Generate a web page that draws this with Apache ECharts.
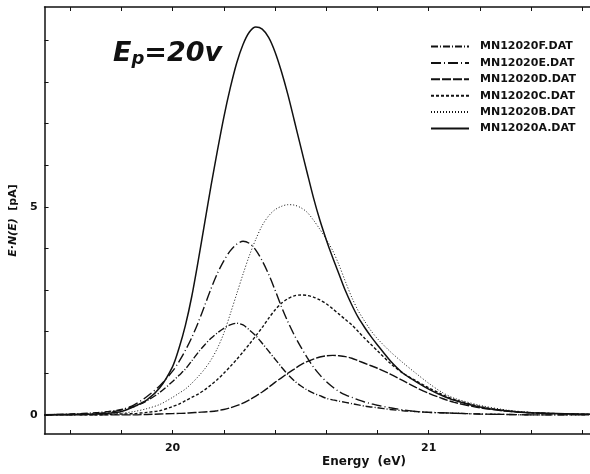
<!DOCTYPE html>
<html>
<head>
<meta charset="utf-8">
<script src="https://cdn.jsdelivr.net/npm/echarts@6/dist/echarts.min.js"></script>
<style>
  html, body { margin: 0; padding: 0; background: #fff; }
  #main { width: 590px; height: 474px; }
</style>
</head>
<body>
<div id="main"></div>
<script>
// energy axis (eV)
const energy = [19.5, 19.6, 19.7, 19.75, 19.8, 19.85, 19.9, 19.95,
  20.0, 20.025, 20.05, 20.075, 20.1, 20.125, 20.15, 20.175, 20.2, 20.225, 20.25, 20.275, 20.3, 20.325, 20.35, 20.375,
  20.4, 20.425, 20.45, 20.475, 20.5, 20.525, 20.55, 20.575, 20.6, 20.625, 20.65, 20.675, 20.7, 20.725, 20.75, 20.775, 20.8,
  20.85, 20.9, 20.95, 21.0, 21.05, 21.1, 21.2, 21.3, 21.4, 21.5, 21.65];

// E*N(E) values (pA)
const serA = [0, 0.01, 0.02, 0.04, 0.08, 0.2, 0.36, 0.65,
  1.16, 1.6, 2.15, 2.85, 3.7, 4.6, 5.5, 6.35, 7.15, 7.85, 8.45, 8.9, 9.2, 9.32, 9.27, 9.07,
  8.72, 8.25, 7.7, 7.08, 6.45, 5.83, 5.22, 4.68, 4.21, 3.78, 3.38, 2.98, 2.64, 2.34, 2.1, 1.88, 1.68,
  1.3, 1.0, 0.8, 0.62, 0.47, 0.35, 0.19, 0.1, 0.05, 0.03, 0.01];
const serB = [0, 0, 0.01, 0.02, 0.04, 0.08, 0.15, 0.25,
  0.42, 0.52, 0.62, 0.76, 0.92, 1.1, 1.32, 1.6, 1.96, 2.42, 2.9, 3.38, 3.83, 4.22, 4.55, 4.78,
  4.93, 5.01, 5.05, 5.04, 4.98, 4.87, 4.68, 4.46, 4.22, 3.95, 3.6, 3.2, 2.82, 2.5, 2.25, 2.02, 1.83,
  1.52, 1.25, 1.0, 0.76, 0.55, 0.4, 0.23, 0.12, 0.06, 0.03, 0.01];
const serC = [0, 0, 0, 0.01, 0.02, 0.03, 0.06, 0.1,
  0.2, 0.26, 0.34, 0.42, 0.5, 0.6, 0.72, 0.85, 1.0, 1.16, 1.33, 1.51, 1.7, 1.9, 2.1, 2.32,
  2.52, 2.68, 2.79, 2.86, 2.88, 2.87, 2.83, 2.76, 2.67, 2.55, 2.42, 2.29, 2.16, 2.0, 1.84, 1.69, 1.54,
  1.24, 1.0, 0.82, 0.65, 0.5, 0.37, 0.2, 0.1, 0.05, 0.03, 0.01];
const serD = [0, 0, 0, 0, 0, 0, 0.01, 0.02,
  0.03, 0.035, 0.04, 0.05, 0.06, 0.07, 0.08, 0.1, 0.13, 0.17, 0.22, 0.28, 0.36, 0.45, 0.55, 0.66,
  0.78, 0.89, 1.0, 1.1, 1.2, 1.28, 1.34, 1.39, 1.42, 1.43, 1.42, 1.4, 1.36, 1.3, 1.24, 1.18, 1.12,
  0.98, 0.82, 0.66, 0.52, 0.4, 0.3, 0.17, 0.09, 0.05, 0.03, 0.01];
const serE = [0, 0.01, 0.03, 0.06, 0.12, 0.24, 0.44, 0.7,
  1.05, 1.28, 1.55, 1.86, 2.22, 2.62, 3.03, 3.4, 3.7, 3.94, 4.1, 4.17, 4.12, 3.96, 3.7, 3.38,
  3.0, 2.6, 2.24, 1.92, 1.64, 1.38, 1.15, 0.96, 0.8, 0.67, 0.56, 0.48, 0.42, 0.36, 0.31, 0.27, 0.23,
  0.17, 0.12, 0.08, 0.06, 0.05, 0.04, 0.02, 0.01, 0, 0, 0];
const serF = [0, 0.02, 0.05, 0.08, 0.13, 0.2, 0.34, 0.54,
  0.8, 0.95, 1.1, 1.3, 1.5, 1.68, 1.84, 1.97, 2.08, 2.16, 2.2, 2.16, 2.04, 1.9, 1.72, 1.53,
  1.34, 1.15, 0.97, 0.82, 0.7, 0.6, 0.52, 0.46, 0.4, 0.36, 0.33, 0.3, 0.27, 0.24, 0.21, 0.19, 0.17,
  0.13, 0.1, 0.08, 0.06, 0.05, 0.04, 0.02, 0.01, 0, 0, 0];

const names = ["MN12020F.DAT", "MN12020E.DAT", "MN12020D.DAT", "MN12020C.DAT", "MN12020B.DAT", "MN12020A.DAT"];
const xTicks = [19.6, 19.8, 20, 20.2, 20.4, 20.6, 20.8, 21, 21.2, 21.4, 21.6];
const xLabels = [20, 21];
const yTicks = [0, 1, 2, 3, 4, 5, 6, 7, 8, 9];
const yLabels = [0, 5];

const font = "DejaVu Sans";
const ink = "#111";

const chart = echarts.init(document.getElementById("main"));

const mk = (name, vals, dash, w) => ({
  name: name,
  type: "line",
  data: energy.map((e, i) => [e, vals[i]]),
  smooth: 0.3,
  symbol: "none",
  lineStyle: { color: ink, width: w, type: dash },
  itemStyle: { color: ink },
});

chart.setOption({
  animation: false,
  backgroundColor: "#fff",
  grid: { left: 41, right: 0, top: 7, bottom: 40 },
  legend: {
    orient: "vertical",
    left: 425,
    top: 36,
    itemWidth: 38,
    itemHeight: 12,
    itemGap: 5.4,
    data: names,
    itemStyle: { opacity: 0 },
    textStyle: { fontFamily: font, fontSize: 11, fontWeight: "bold", color: ink, padding: [0, 0, 0, 6] },
  },
  xAxis: [
    {
      type: "value",
      min: 19.5,
      max: 21.63,
      axisLine: { onZero: false, lineStyle: { color: ink, width: 1.5 } },
      axisTick: { inside: true, length: 4, customValues: xTicks, lineStyle: { color: ink } },
      axisLabel: { customValues: xLabels, color: ink, fontFamily: font, fontSize: 11, fontWeight: "bold", margin: 9 },
      splitLine: { show: false },
    },
    {
      type: "value",
      position: "top",
      min: 19.5,
      max: 21.63,
      axisLine: { onZero: false, lineStyle: { color: ink, width: 1.5 } },
      axisTick: { inside: true, length: 4, customValues: xTicks, lineStyle: { color: ink } },
      axisLabel: { show: false },
      splitLine: { show: false },
    },
  ],
  yAxis: {
    type: "value",
    min: -0.46,
    max: 9.8,
    name: "{i|E·N(E)}  [pA]",
    nameLocation: "middle",
    nameGap: 24,
    nameTextStyle: {
      color: ink, fontFamily: font, fontSize: 11, fontWeight: "bold",
      rich: { i: { fontStyle: "italic", fontFamily: font, fontSize: 11, fontWeight: "bold", color: ink } },
    },
    axisLine: { show: true, onZero: false, lineStyle: { color: ink, width: 1.5 } },
    axisTick: { show: true, inside: true, length: 4, customValues: yTicks, lineStyle: { color: ink } },
    axisLabel: { customValues: yLabels, color: ink, fontFamily: font, fontSize: 11, fontWeight: "bold", margin: 7 },
    splitLine: { show: false },
  },
  graphic: [
    {
      type: "text",
      left: 322,
      top: 456,
      style: { text: "Energy  (eV)", fontFamily: font, fontSize: 12, fontWeight: "bold", fill: ink },
    },
    {
      type: "text",
      left: 113,
      top: 40,
      style: {
        text: "{e|E}{p|p}{e|=20v}",
        rich: {
          e: { fontFamily: font, fontSize: 27, fontWeight: "bold", fontStyle: "italic", fill: ink },
          p: { fontFamily: font, fontSize: 18, fontWeight: "bold", fontStyle: "italic", fill: ink, padding: [12, 0, 0, 0] },
        },
      },
    },
  ],
  series: [
    mk(names[0], serF, [7, 2, 1, 2], 1.4),
    mk(names[1], serE, [10, 3, 1, 3], 1.4),
    mk(names[2], serD, [9, 2], 1.4),
    mk(names[3], serC, [3, 2], 1.4),
    mk(names[4], serB, [1, 2], 1),
    mk(names[5], serA, "solid", 1.5),
  ],
});
</script>
</body>
</html>
